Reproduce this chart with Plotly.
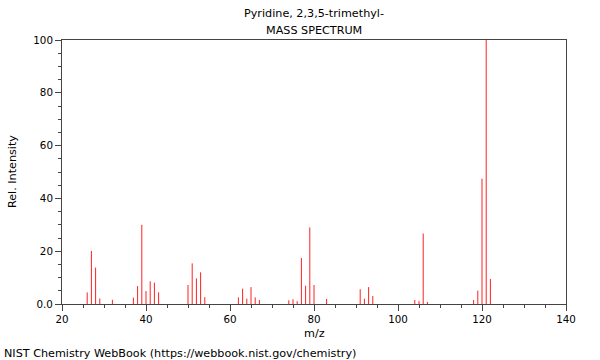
import plotly.graph_objects as go

mz = [26, 27, 28, 29, 32, 37, 38, 39, 40, 41, 42, 43, 50, 51, 52, 53, 54,
      62, 63, 64, 65, 66, 67, 74, 75, 76, 77, 78, 79, 80, 83,
      91, 92, 93, 94, 104, 105, 106, 107, 118, 119, 120, 121, 122]
intensity = [4.4, 20.1, 13.8, 2.1, 1.6, 2.4, 6.8, 30.0, 4.9, 8.6, 8.1, 4.4,
             7.2, 15.4, 9.7, 12.0, 2.6,
             2.5, 5.8, 2.0, 6.4, 2.5, 1.5, 1.4, 1.8, 1.1, 17.4, 6.9, 29.0, 7.2, 1.9,
             5.6, 2.0, 6.4, 3.0, 1.5, 1.1, 26.7, 0.8, 1.5, 5.1, 47.5, 100.0, 9.5]

title_line1 = "Pyridine, 2,3,5-trimethyl-"
title_line2 = "MASS SPECTRUM"
x_label = "m/z"
y_label = "Rel. Intensity"
footer = "NIST Chemistry WebBook (https://webbook.nist.gov/chemistry)"
y_tickvals = [0, 20, 40, 60, 80, 100]
y_ticktext = ["0.0", "20", "40", "60", "80", "100"]

xs, ys = [], []
for m, v in zip(mz, intensity):
    xs += [m, m, None]
    ys += [0, v, None]

font = dict(family="DejaVu Sans", size=11.2, color="#000000")
tickfont = dict(family="DejaVu Sans", size=10.3, color="#000000")
axcol = "#444444"

fig = go.Figure()
fig.add_trace(go.Scatter(x=xs, y=ys, mode="lines",
                         line=dict(color="#ff2020", width=1),
                         hoverinfo="skip", showlegend=False))

fig.update_layout(
    width=600, height=360,
    margin=dict(l=62, r=34, t=40, b=56),
    paper_bgcolor="white", plot_bgcolor="white",
    font=font,
    showlegend=False,
    xaxis=dict(range=[20, 140], tick0=20, dtick=20, showgrid=False, zeroline=False,
               showline=True, linecolor=axcol, linewidth=1, mirror=True,
               ticks="outside", ticklen=6, tickcolor=axcol, tickfont=tickfont,
               minor=dict(dtick=5, ticks="outside", ticklen=3, tickcolor=axcol)),
    yaxis=dict(range=[0, 100], tickvals=y_tickvals, ticktext=y_ticktext,
               showgrid=False, zeroline=False,
               showline=True, linecolor=axcol, linewidth=1, mirror=True,
               ticks="outside", ticklen=6, tickcolor=axcol, tickfont=tickfont,
               minor=dict(dtick=5, ticks="outside", ticklen=3, tickcolor=axcol)),
    annotations=[
        dict(text=title_line1, xref="paper", yref="paper", x=0.5, y=1.102,
             showarrow=False, xanchor="center", yanchor="middle", font=font),
        dict(text=title_line2, xref="paper", yref="paper", x=0.5, y=1.036,
             showarrow=False, xanchor="center", yanchor="middle", font=font),
        dict(text=x_label, xref="paper", yref="paper", x=0.5, y=-0.11,
             showarrow=False, xanchor="center", yanchor="middle", font=font),
        dict(text=y_label, xref="paper", yref="paper", x=-0.099, y=0.5,
             showarrow=False, xanchor="center", yanchor="middle", textangle=-90, font=font),
        dict(text=footer, xref="paper", yref="paper", x=-0.119, y=-0.186,
             showarrow=False, xanchor="left", yanchor="middle", font=font),
    ],
)

fig.write_html("out.html", config={"displayModeBar": False, "staticPlot": True},
               post_script="document.body.style.margin='0';document.body.style.overflow='hidden';")
